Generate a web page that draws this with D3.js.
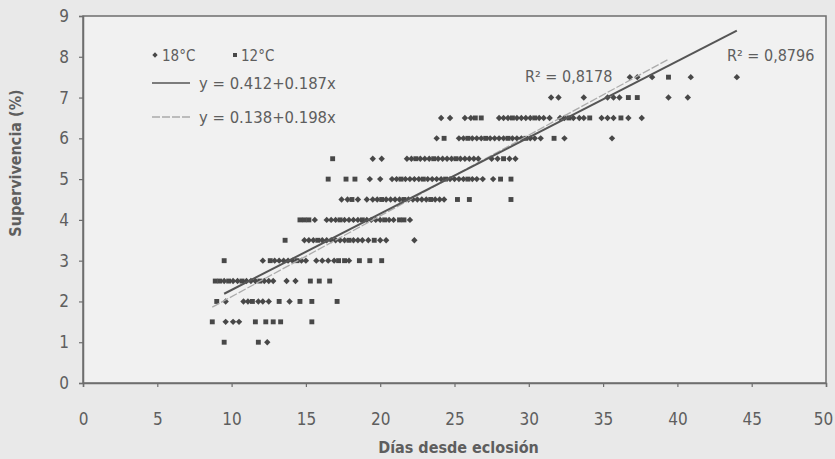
<!DOCTYPE html>
<html>
<head>
<meta charset="utf-8">
<script src="https://cdn.jsdelivr.net/npm/d3@7"></script>
<style>
  body { margin: 0; background: #e9e9e9; }
  svg { display: block; font-family: "DejaVu Sans Condensed", "Liberation Sans Narrow", "Roboto", sans-serif; }
</style>
</head>
<body>
<svg width="835" height="459"></svg>
<script>
// ---- Datos
// 18 °C (rombos): [días, supervivencia]
const puntos18 = [
  [12.4, 1],
  [9.6, 1.5], [10.1, 1.5], [10.5, 1.5],
  [9.6, 2], [10.8, 2], [11.1, 2], [11.8, 2], [12.1, 2], [12.5, 2], [13.9, 2],
  [9.5, 2.5], [10.1, 2.5], [10.4, 2.5], [11.0, 2.5], [11.3, 2.5], [11.6, 2.5], [12.2, 2.5], [12.5, 2.5], [12.8, 2.5], [13.7, 2.5], [14.3, 2.5],
  [12.1, 3], [12.9, 3], [13.2, 3], [13.5, 3], [13.8, 3], [14.1, 3], [14.7, 3], [15.0, 3], [15.7, 3], [16.1, 3], [16.5, 3], [16.9, 3], [17.9, 3],
  [14.9, 3.5], [15.2, 3.5], [15.5, 3.5], [16.1, 3.5], [16.4, 3.5], [16.7, 3.5], [17.0, 3.5], [17.3, 3.5], [17.6, 3.5], [18.2, 3.5], [18.5, 3.5], [18.8, 3.5], [19.2, 3.5], [20.0, 3.5], [20.4, 3.5], [22.3, 3.5],
  [15.6, 4], [16.4, 4], [16.7, 4], [17.0, 4], [17.6, 4], [17.9, 4], [18.2, 4], [18.5, 4], [19.1, 4], [19.4, 4], [19.7, 4], [20.0, 4], [20.6, 4], [20.9, 4], [22.0, 4],
  [17.4, 4.5], [17.8, 4.5], [18.5, 4.5], [19.1, 4.5], [19.5, 4.5], [19.8, 4.5], [20.4, 4.5], [20.7, 4.5], [21.0, 4.5], [21.3, 4.5], [21.9, 4.5], [22.2, 4.5], [22.5, 4.5], [22.8, 4.5], [23.1, 4.5], [23.7, 4.5], [24.0, 4.5], [24.3, 4.5],
  [19.3, 5], [20.0, 5], [20.8, 5], [21.1, 5], [21.7, 5], [22.0, 5], [22.3, 5], [22.6, 5], [23.2, 5], [23.5, 5], [23.8, 5], [24.1, 5], [24.7, 5], [25.0, 5], [25.3, 5], [25.6, 5], [26.2, 5], [26.5, 5], [26.9, 5], [27.6, 5],
  [19.5, 5.5], [20.1, 5.5], [21.8, 5.5], [22.1, 5.5], [22.7, 5.5], [23.0, 5.5], [23.3, 5.5], [23.9, 5.5], [24.2, 5.5], [24.5, 5.5], [24.8, 5.5], [25.4, 5.5], [25.7, 5.5], [26.0, 5.5], [26.3, 5.5], [26.6, 5.5], [27.5, 5.5], [27.9, 5.5], [28.7, 5.5], [29.1, 5.5],
  [23.8, 6], [25.3, 6], [25.6, 6], [26.2, 6], [26.5, 6], [26.8, 6], [27.4, 6], [27.7, 6], [28.0, 6], [28.3, 6], [28.9, 6], [29.2, 6], [29.5, 6], [30.1, 6], [30.4, 6], [30.8, 6], [32.4, 6], [35.6, 6],
  [24.1, 6.5], [24.7, 6.5], [25.7, 6.5], [26.1, 6.5], [28.0, 6.5], [28.3, 6.5], [28.6, 6.5], [29.2, 6.5], [29.5, 6.5], [29.8, 6.5], [30.1, 6.5], [30.7, 6.5], [31.0, 6.5], [31.4, 6.5], [32.1, 6.5], [32.4, 6.5], [33.0, 6.5], [33.4, 6.5], [33.7, 6.5], [34.9, 6.5], [35.3, 6.5], [35.7, 6.5], [36.7, 6.5], [37.6, 6.5],
  [31.5, 7], [32.0, 7], [33.7, 7], [35.3, 7], [35.7, 7], [36.1, 7], [39.4, 7], [40.7, 7],
  [36.8, 7.5], [37.3, 7.5], [38.3, 7.5], [40.9, 7.5], [44.0, 7.5]
];

// 12 °C (cuadrados): [días, supervivencia]
const puntos12 = [
  [9.5, 1], [11.8, 1],
  [8.7, 1.5], [11.6, 1.5], [12.3, 1.5], [12.8, 1.5], [13.3, 1.5], [15.4, 1.5],
  [9.0, 2], [11.4, 2], [13.2, 2], [14.6, 2], [15.4, 2], [17.1, 2],
  [8.9, 2.5], [9.2, 2.5], [9.8, 2.5], [10.7, 2.5], [11.9, 2.5], [15.3, 2.5], [15.9, 2.5], [16.6, 2.5],
  [9.5, 3], [12.6, 3], [14.4, 3], [17.2, 3], [17.6, 3], [18.6, 3], [19.3, 3], [20.1, 3],
  [13.6, 3.5], [15.8, 3.5], [17.9, 3.5], [19.6, 3.5],
  [14.6, 4], [14.9, 4], [15.2, 4], [17.3, 4], [18.8, 4], [20.3, 4], [21.3, 4], [21.6, 4],
  [18.1, 4.5], [20.1, 4.5], [21.6, 4.5], [23.4, 4.5], [25.2, 4.5], [26.0, 4.5], [28.8, 4.5],
  [16.5, 5], [17.7, 5], [18.3, 5], [21.4, 5], [22.9, 5], [24.4, 5], [25.9, 5], [28.1, 5], [28.8, 5],
  [16.8, 5.5], [22.4, 5.5], [23.6, 5.5], [25.1, 5.5], [28.3, 5.5],
  [24.3, 6], [25.9, 6], [27.1, 6], [28.6, 6], [29.8, 6], [31.7, 6],
  [26.4, 6.5], [26.8, 6.5], [28.9, 6.5], [30.4, 6.5], [32.7, 6.5], [34.1, 6.5], [36.2, 6.5],
  [36.7, 7], [37.3, 7],
  [39.4, 7.5]
];

// Ajustes lineales: y = a + b·x
const ajuste18 = { a: 0.412, b: 0.187, r2: '0,8796' };
const ajuste12 = { a: 0.138, b: 0.198, r2: '0,8178' };

const xTicks = [0, 5, 10, 15, 20, 25, 30, 35, 40, 45, 50];
const yTicks = [0, 1, 2, 3, 4, 5, 6, 7, 8, 9];

const svg = d3.select('svg');
const margens = { left: 83, right: 9, top: 16, bottom: 76 };
const width = +svg.attr('width');
const height = +svg.attr('height');
const innerWidth = width - margens.left - margens.right;
const innerHeight = height - margens.top - margens.bottom;

const corTexto = '#5e5e5e';
const corPonto = '#484848';
const fonte = '"DejaVu Sans Condensed", "Liberation Sans Narrow", sans-serif';

// ---- Escalas
const x = d3.scaleLinear().domain([0, 50]).range([0, innerWidth]);
const y = d3.scaleLinear().domain([0, 9]).range([innerHeight, 0]);

const g = svg.append('g')
  .attr('transform', `translate(${margens.left}, ${margens.top})`);

// fundo da área de plotagem
g.append('rect')
  .attr('width', innerWidth)
  .attr('height', innerHeight)
  .attr('fill', '#f1f1f1')
  .attr('stroke', '#6e6e6e')
  .attr('stroke-width', 1.5);

// ---- Eixos
const eixoX = g.append('g')
  .attr('transform', `translate(0, ${innerHeight})`)
  .call(d3.axisBottom(x).tickValues(xTicks).tickSize(4).tickPadding(26));

const eixoY = g.append('g')
  .call(d3.axisLeft(y).tickValues(yTicks).tickSize(4).tickPadding(10));

[eixoX, eixoY].forEach(e => {
  e.select('.domain').attr('stroke', '#6e6e6e').attr('stroke-width', 1.5);
  e.selectAll('.tick line').attr('stroke', '#6e6e6e').attr('stroke-width', 1.2);
  e.selectAll('.tick text')
    .attr('fill', corTexto)
    .style('font-size', '17px')
    .style('font-family', fonte);
});
// o "50" fica colado na borda direita
eixoX.selectAll('.tick text').filter(d => d === 50).attr('dx', '-3');

// rótulos dos eixos
g.append('text')
  .attr('x', innerWidth / 2 + 4)
  .attr('y', innerHeight + 70)
  .attr('text-anchor', 'middle')
  .attr('fill', corTexto)
  .style('font-size', '16px')
  .style('font-weight', 'bold')
  .text('Días desde eclosión');

g.append('text')
  .attr('transform', 'rotate(-90)')
  .attr('x', -147)
  .attr('y', -62)
  .attr('text-anchor', 'middle')
  .attr('fill', corTexto)
  .style('font-size', '16px')
  .style('font-weight', 'bold')
  .text('Supervivencia (%)');

// ---- Linhas de tendência
const linha = d3.line().x(d => x(d[0])).y(d => y(d[1]));

function trend(pontos, aj) {
  const [x0, x1] = d3.extent(pontos, d => d[0]);
  return [[x0, aj.a + aj.b * x0], [x1, aj.a + aj.b * x1]];
}

// ---- Pontos
const simbolo18 = d3.symbol().type(d3.symbolDiamond2).size(26);
const simbolo12 = d3.symbol().type(d3.symbolSquare).size(24);

g.selectAll('.p12')
  .data(puntos12)
  .enter()
  .append('path')
  .attr('class', 'p12')
  .attr('transform', d => `translate(${x(d[0])}, ${y(d[1])})`)
  .attr('d', simbolo12)
  .attr('fill', corPonto);

g.selectAll('.p18')
  .data(puntos18)
  .enter()
  .append('path')
  .attr('class', 'p18')
  .attr('transform', d => `translate(${x(d[0])}, ${y(d[1])})`)
  .attr('d', simbolo18)
  .attr('fill', corPonto);

g.append('path')
  .datum(trend(puntos12, ajuste12))
  .attr('d', linha)
  .attr('fill', 'none')
  .attr('stroke', '#ababab')
  .attr('stroke-width', 1.3)
  .attr('stroke-dasharray', '8,2');

g.append('path')
  .datum(trend(puntos18, ajuste18))
  .attr('d', linha)
  .attr('fill', 'none')
  .attr('stroke', '#555')
  .attr('stroke-width', 2);

// ---- R²
g.append('text')
  .attr('x', 442)
  .attr('y', 66)
  .attr('fill', corTexto)
  .style('font-size', '16px')
  .text(`R² = ${ajuste12.r2}`);

g.append('text')
  .attr('x', 644)
  .attr('y', 45)
  .attr('fill', corTexto)
  .style('font-size', '16px')
  .text(`R² = ${ajuste18.r2}`);

// ---- Legenda
const leg = g.append('g');

leg.append('path')
  .attr('transform', 'translate(72, 39)')
  .attr('d', d3.symbol().type(d3.symbolDiamond2).size(18))
  .attr('fill', corPonto);
leg.append('text')
  .attr('x', 79).attr('y', 45)
  .attr('fill', corTexto)
  .style('font-size', '15px')
  .text('18°C');

leg.append('path')
  .attr('transform', 'translate(152, 39)')
  .attr('d', d3.symbol().type(d3.symbolSquare).size(16))
  .attr('fill', corPonto);
leg.append('text')
  .attr('x', 158).attr('y', 45)
  .attr('fill', corTexto)
  .style('font-size', '15px')
  .text('12°C');

leg.append('line')
  .attr('x1', 69).attr('x2', 107)
  .attr('y1', 67).attr('y2', 67)
  .attr('stroke', '#555')
  .attr('stroke-width', 1.5);
leg.append('text')
  .attr('x', 116).attr('y', 73)
  .attr('fill', corTexto)
  .style('font-size', '16.5px')
  .text(`y = ${ajuste18.a}+${ajuste18.b}x`);

leg.append('line')
  .attr('x1', 69).attr('x2', 107)
  .attr('y1', 101).attr('y2', 101)
  .attr('stroke', '#ababab')
  .attr('stroke-width', 1.3)
  .attr('stroke-dasharray', '8,2');
leg.append('text')
  .attr('x', 116).attr('y', 107)
  .attr('fill', corTexto)
  .style('font-size', '16.5px')
  .text(`y = ${ajuste12.a}+${ajuste12.b}x`);
</script>
</body>
</html>
